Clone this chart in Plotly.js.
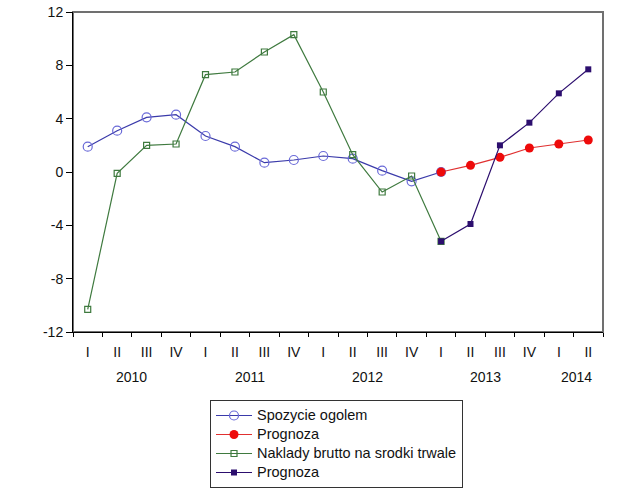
<!DOCTYPE html>
<html><head><meta charset="utf-8">
<script src="https://cdn.plot.ly/plotly-3.0.1.min.js"></script>
<style>html,body{margin:0;padding:0;background:#fff}#chart{width:640px;height:491px}</style>
</head><body><div id="chart"></div>
<script>
const quarters = ["I","II","III","IV","I","II","III","IV","I","II","III","IV","I","II","III","IV","I","II"];
const quarterIdx = [0,1,2,3,4,5,6,7,8,9,10,11,12,13,14,15,16,17];
const years = ["2010","2011","2012","2013","2014"];
const yearCenters = [1.5,5.5,9.5,13.5,16.6];
const yearBounds = [-0.5,3.5,7.5,11.5,15.5];
const histIdx = [0,1,2,3,4,5,6,7,8,9,10,11,12];
const fcstIdx = [12,13,14,15,16,17];
const seriesNames = ["Spozycie ogolem","Prognoza","Naklady brutto na srodki trwale","Prognoza"];
const spozycie = [1.9,3.1,4.1,4.3,2.7,1.9,0.7,0.9,1.2,1.0,0.1,-0.7,0.0];
const prognozaSpozycie = [0.0,0.5,1.1,1.8,2.1,2.4];
const naklady = [-10.3,-0.1,2.0,2.1,7.3,7.5,9.0,10.3,6.0,1.3,-1.5,-0.3,-5.2];
const prognozaNaklady = [-5.2,-3.9,2.0,3.7,5.9,7.7];
const yTicks = [-12,-8,-4,0,4,8,12];
const yTickText = ["-12","-8","-4","0","4","8","12"];

const font = {family:"Liberation Sans, Arial, sans-serif", size:14, color:"#111"};
const nm = s => '<span style="font-size:14.5px">' + s + '</span>';
const traces = [
  {x:histIdx, y:spozycie, name:nm(seriesNames[0]), mode:"lines+markers",
   line:{color:"#3a3aaa", width:1.2},
   marker:{symbol:"circle-open", size:9, color:"#6a6ad8", line:{width:1.2}}},
  {x:fcstIdx, y:prognozaSpozycie, name:nm(seriesNames[1]), mode:"lines+markers",
   line:{color:"#e03030", width:1.2},
   marker:{symbol:"circle", size:9, color:"#ee0a0a"}},
  {x:histIdx, y:naklady, name:nm(seriesNames[2]), mode:"lines+markers",
   line:{color:"#3f7a3f", width:1.2},
   marker:{symbol:"square-open", size:6, color:"#3f7a3f", line:{width:1.2}}},
  {x:fcstIdx, y:prognozaNaklady, name:nm(seriesNames[3]), mode:"lines+markers",
   line:{color:"#2c0e6e", width:1.2},
   marker:{symbol:"square", size:6, color:"#2c0e6e"}}
];
const annotations = years.map((t,i)=>({x:yearCenters[i], xref:"x", y:-0.14, yref:"paper",
  text:t, showarrow:false, font:font, xanchor:"center", yanchor:"middle"}));
const layout = {
  width:640, height:491, margin:{l:73, r:37, t:12, b:159, autoexpand:false},
  paper_bgcolor:"#fff", plot_bgcolor:"#fff", font:font, showlegend:true,
  xaxis:{range:[-0.5,17.5], tickmode:"array", tickvals:quarterIdx, ticktext:quarters,
    ticks:"outside", ticklen:7, tickcolor:"rgba(0,0,0,0)", showgrid:false, zeroline:false,
    showline:true, linecolor:"#000", linewidth:1, tickfont:font,
    minor:{tickmode:"linear", tick0:-0.5, dtick:1, ticks:"outside", ticklen:4, tickcolor:"#000", tickwidth:1, showgrid:false}},
  xaxis2:{overlaying:"x", anchor:"y", side:"bottom", range:[-0.5,17.5], tickmode:"array",
    tickvals:yearBounds, showticklabels:false, ticks:"outside", ticklen:7, tickcolor:"#000",
    showgrid:false, zeroline:false, showline:false},
  yaxis:{range:[-12,12], tickmode:"array", tickvals:yTicks, ticktext:yTickText, ticks:"outside", ticklen:6,
    tickcolor:"#000", showgrid:false, zeroline:false, showline:true, linecolor:"#000",
    linewidth:1, tickfont:font},
  shapes:[{type:"rect", xref:"x domain", yref:"y domain", x0:0, x1:1, y0:0, y1:1,
    line:{color:"#707070", width:2}, layer:"below"}],
  legend:{x:0.2585, y:-0.2125, xanchor:"left", yanchor:"top", bordercolor:"#333",
    borderwidth:1, bgcolor:"#fff", font:{family:font.family, size:11, color:"#111"},
    tracegroupgap:0, itemwidth:36},
  annotations:annotations
};
Plotly.newPlot("chart", traces, layout, {displayModeBar:false, staticPlot:true});
</script></body></html>
